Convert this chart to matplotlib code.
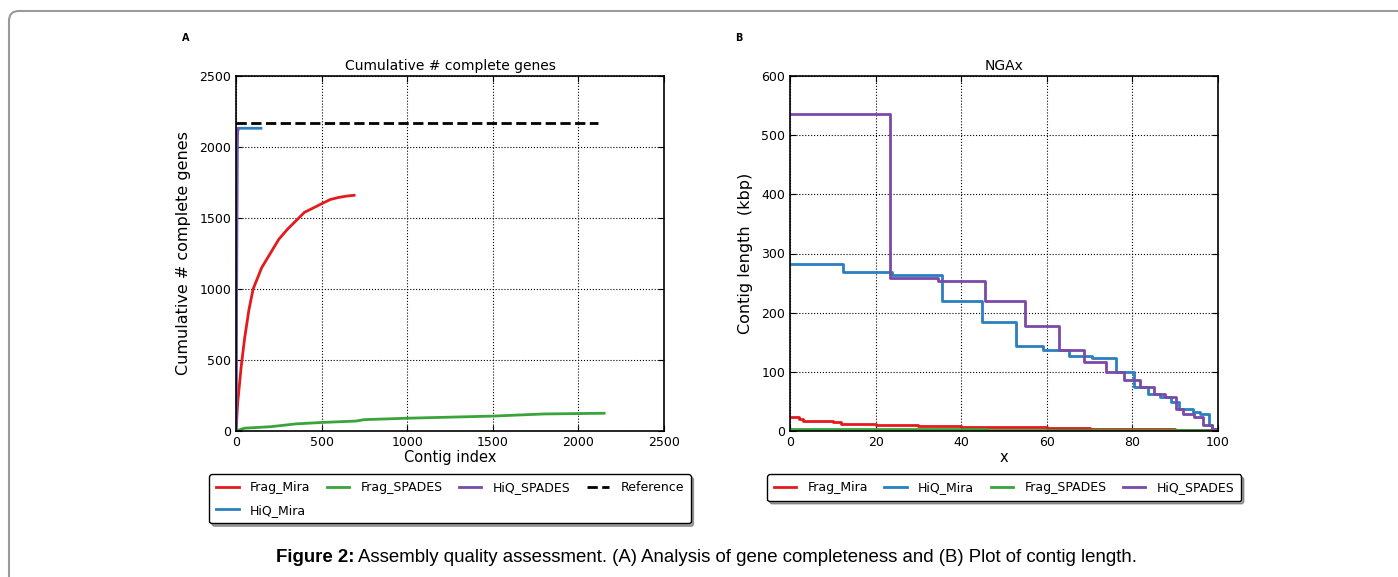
import matplotlib
matplotlib.use("Agg")
import matplotlib.pyplot as plt
from matplotlib.patches import FancyBboxPatch

# ---- data ----
# panel A: cumulative # complete genes vs contig index
fm_x = [0, 10, 30, 50, 75, 100, 150, 200, 250, 300, 350, 400, 450, 500, 550, 600, 650, 690]
fm_y = [0, 200, 450, 650, 850, 1000, 1150, 1250, 1350, 1420, 1480, 1540, 1570, 1600, 1630, 1645, 1655, 1660]
hm_x = [0, 8, 15, 146]
hm_y = [0, 2100, 2132, 2132]
fs_x = [0, 50, 200, 350, 500, 700, 750, 1000, 1500, 1800, 2150]
fs_y = [0, 20, 30, 50, 60, 70, 80, 90, 105, 120, 125]
hs_x = [0, 5, 10]
hs_y = [0, 2000, 2130]
ref_x = [0, 2115]
ref_y = [2170, 2170]

# panel B: NGAx step curves (x = left edge of each step)
b_fm_x = [0, 2, 3, 10, 12, 20, 30, 40, 50, 60, 70, 80, 90, 100]
b_fm_y = [24, 21, 17, 15, 12, 10, 8, 7, 6, 5, 4, 3, 2, 0.5]
b_hm_x = [0, 12.3, 23.9, 35.4, 44.9, 52.9, 59.1, 65.1, 70.6, 76.1, 80.4, 83.7, 86.4, 89.0, 91.0, 94.2, 95.7, 98.0, 98.6, 99.8]
b_hm_y = [282, 268, 263, 220, 184, 144, 137, 127, 124, 99, 75, 63, 58, 49, 38, 32, 28, 10, 3, 0]
b_fs_x = [0, 10, 46, 60, 100]
b_fs_y = [4, 3, 2, 1, 0.5]
b_hs_x = [0, 23.3, 34.5, 45.5, 55.0, 62.8, 68.6, 73.8, 78.0, 81.7, 85.0, 87.5, 90.1, 91.8, 94.5, 96.5, 98.5, 99.2]
b_hs_y = [536, 258, 253, 220, 177, 137, 116, 99, 86, 75, 63, 58, 38, 29, 24, 10, 3, 0]

c_red = "#e41a1c"
c_blue = "#2a7fc0"
c_green = "#3aa33a"
c_purple = "#7a4aa8"

W, H = 1398, 577
fig = plt.figure(figsize=(W / 100, H / 100), dpi=100)

# rounded page frame
frame = FancyBboxPatch((9 / W, -30 / H), 1420 / W, (H - 11 + 30) / H,
                       boxstyle="round,pad=0,rounding_size=0.007",
                       mutation_aspect=W / H,
                       transform=fig.transFigure, fill=False,
                       ec="#9a9a9a", lw=1.5, clip_on=False)
fig.patches.append(frame)


def style(ax):
    ax.grid(True, ls=":", color="black", lw=0.8)
    ax.tick_params(direction="in", length=4, top=True, right=True, labelsize=9)
    for s in ax.spines.values():
        s.set_lw(1.2)


def legend(ax):
    ax.legend(loc="upper center", bbox_to_anchor=(0.5, -0.122), ncol=4,
              prop={"size": 9}, shadow=True, fancybox=True,
              edgecolor="black", framealpha=1, handlelength=1.8,
              columnspacing=1.3, handletextpad=0.9, borderaxespad=0,
              labelspacing=0.75, borderpad=0.55)


# panel A
axA = fig.add_axes([236 / W, 1 - 431 / H, 428 / W, 355 / H])
axA.plot(fm_x, fm_y, color=c_red, lw=2, label="Frag_Mira")
axA.plot(hm_x, hm_y, color=c_blue, lw=2, label="HiQ_Mira")
axA.plot(fs_x, fs_y, color=c_green, lw=2, label="Frag_SPADES")
axA.plot(hs_x, hs_y, color=c_purple, lw=2, label="HiQ_SPADES")
axA.plot(ref_x, ref_y, color="black", lw=2, ls="--", label="Reference")
axA.set_xlim(0, 2500)
axA.set_ylim(0, 2500)
axA.set_xticks(range(0, 2501, 500))
axA.set_yticks(range(0, 2501, 500))
style(axA)
axA.set_title("Cumulative # complete genes", fontsize=10, pad=4)
axA.set_xlabel("Contig index", fontsize=10.5, labelpad=1)
axA.set_ylabel("Cumulative # complete genes", fontsize=11.5, labelpad=6)
legend(axA)

# panel B
axB = fig.add_axes([790 / W, 1 - 431 / H, 428 / W, 355 / H])
axB.step(b_fm_x, b_fm_y, where="post", color=c_red, lw=2, label="Frag_Mira")
axB.step(b_hm_x, b_hm_y, where="post", color=c_blue, lw=2, label="HiQ_Mira")
axB.step(b_fs_x, b_fs_y, where="post", color=c_green, lw=2, label="Frag_SPADES")
axB.step(b_hs_x, b_hs_y, where="post", color=c_purple, lw=2, label="HiQ_SPADES")
axB.set_xlim(0, 100)
axB.set_ylim(0, 600)
axB.set_xticks(range(0, 101, 20))
axB.set_yticks(range(0, 601, 100))
style(axB)
axB.set_title("NGAx", fontsize=10, pad=4)
axB.set_xlabel("x", fontsize=10.5, labelpad=1)
axB.set_ylabel("Contig length  (kbp)", fontsize=11.5, labelpad=6)
legend(axB)

fig.text(182 / W, 1 - 38 / H, "A", fontsize=7, weight="bold", va="center")
fig.text(735 / W, 1 - 38 / H, "B", fontsize=7, weight="bold", va="center")

# caption
cap_y = 1 - 558 / H
t1 = fig.text(276 / W, cap_y, "Figure 2:", fontsize=13.4, weight="bold",
              family="Liberation Sans", va="center")
fig.canvas.draw()
bb = t1.get_window_extent()
fig.text((bb.x1 + 4) / W, cap_y,
         "Assembly quality assessment. (A) Analysis of gene completeness and (B) Plot of contig length.",
         fontsize=13.4, family="Liberation Sans", va="center")

fig.savefig("out.png", dpi=100)
